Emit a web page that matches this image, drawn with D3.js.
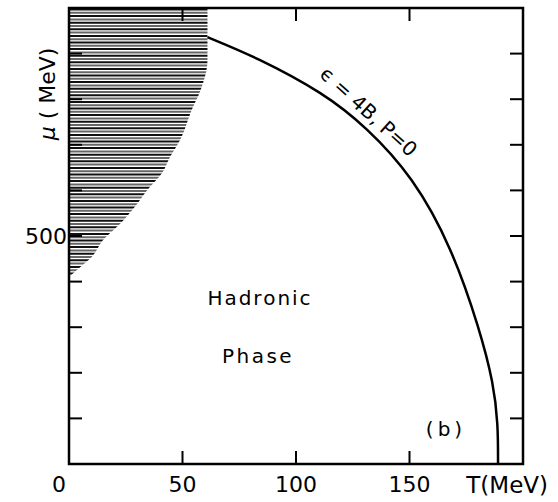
<!doctype html>
<html>
<head>
<style>
  body { margin: 0; background: #fff; }
  text { font-family: "DejaVu Sans", sans-serif; fill: #000; }
</style>
<script src="https://d3js.org/d3.v7.min.js"></script>
</head>
<body>
<svg width="558" height="502"></svg>
<script>
// axis ticks
var tTicks = [0, 50, 100, 150];
var muTicks = [100, 200, 300, 400, 500, 600, 700, 800, 900];
var muLabels = [500];

// phase boundary eps = 4B, P = 0  (T, mu) in MeV
var curveT  = [61, 83, 112, 131, 151.5, 168.7, 181, 187, 189, 189];
var curveMu = [936, 891, 814, 739, 630, 474, 294, 177, 89, 0];

// hatched region, right edge (T, mu)
var hatchT  = [61, 61, 61, 58, 54, 49, 44.5, 41, 34.5, 29, 23, 15, 10, 5, 0];
var hatchMu = [1000, 936, 886, 820, 776, 711, 673, 638, 601, 564, 529, 491, 454, 432, 410];

var svg = d3.select("svg");
var x = d3.scaleLinear().domain([0, 200]).range([69, 523]);
var y = d3.scaleLinear().domain([0, 1000]).range([464, 8]);

// hatching, clipped to the region
var hatch = hatchT.map(function(t, i) { return [t, hatchMu[i]]; });
svg.append("clipPath").attr("id", "hclip")
   .append("path")
   .attr("d", d3.area()
       .x0(x(0))
       .x1(function(d) { return x(d[0]); })
       .y(function(d) { return y(d[1]); })
       .curve(d3.curveMonotoneY)(hatch));

var rows = d3.range(y(1000) + 1.5, y(410), 3.3);
svg.append("g").attr("clip-path", "url(#hclip)")
   .selectAll("line").data(rows).enter().append("line")
   .attr("x1", x(0)).attr("x2", x(65))
   .attr("y1", function(d) { return d; })
   .attr("y2", function(d) { return d; })
   .attr("stroke", function(d, i) { return i % 2 ? "#666" : "#111"; })
   .attr("stroke-width", 2);

// frame
svg.append("rect")
   .attr("x", x(0)).attr("y", y(1000))
   .attr("width", x(200) - x(0)).attr("height", y(0) - y(1000))
   .attr("fill", "none").attr("stroke", "#000").attr("stroke-width", 2.5);

// ticks on all four sides
var tk = 13;
var g = svg.append("g").attr("stroke", "#000").attr("stroke-width", 2);
tTicks.slice(1).forEach(function(t) {
    g.append("line").attr("x1", x(t)).attr("x2", x(t)).attr("y1", y(0)).attr("y2", y(0) - tk);
    g.append("line").attr("x1", x(t)).attr("x2", x(t)).attr("y1", y(1000)).attr("y2", y(1000) + tk);
});
muTicks.forEach(function(m) {
    g.append("line").attr("x1", x(0)).attr("x2", x(0) + tk).attr("y1", y(m)).attr("y2", y(m));
    g.append("line").attr("x1", x(200)).attr("x2", x(200) - tk).attr("y1", y(m)).attr("y2", y(m));
});

// tick labels
svg.selectAll(".tl").data(tTicks).enter().append("text")
   .attr("class", "tl")
   .attr("x", function(d) { return x(d) + (d === 0 ? -10 : 0); })
   .attr("y", 492)
   .attr("text-anchor", "middle")
   .attr("font-size", 22)
   .text(function(d) { return d; });

svg.selectAll(".ml").data(muLabels).enter().append("text")
   .attr("class", "ml")
   .attr("x", x(0) - 2)
   .attr("y", function(d) { return y(d) + 8; })
   .attr("text-anchor", "end")
   .attr("font-size", 22)
   .text(function(d) { return d; });

// axis titles
svg.append("text").attr("x", 548).attr("y", 493)
   .attr("text-anchor", "end").attr("font-size", 23)
   .text("T(MeV)");

var yl = svg.append("text")
   .attr("transform", "translate(55,94) rotate(-90)")
   .attr("text-anchor", "middle").attr("font-size", 22);
yl.append("tspan").attr("font-style", "italic").text("μ");
yl.append("tspan").text(" ( MeV)");

// boundary curve
var pts = curveT.map(function(t, i) { return [t, curveMu[i]]; });
svg.append("path")
   .attr("d", d3.line()
       .x(function(d) { return x(d[0]); })
       .y(function(d) { return y(d[1]); })
       .curve(d3.curveBasis)(pts))
   .attr("fill", "none").attr("stroke", "#000").attr("stroke-width", 2.5);

svg.append("text")
   .attr("transform", "translate(" + x(132) + "," + y(773) + ") rotate(42)")
   .attr("text-anchor", "middle").attr("dy", "0.35em")
   .attr("font-size", 20)
   .text("ϵ = 4B, P=0");

// annotations
svg.append("text").attr("x", 260).attr("y", 305)
   .attr("text-anchor", "middle").attr("font-size", 20)
   .attr("letter-spacing", 2).text("Hadronic");
svg.append("text").attr("x", 258).attr("y", 363)
   .attr("text-anchor", "middle").attr("font-size", 20)
   .attr("letter-spacing", 2.5).text("Phase");
svg.append("text").attr("x", 446).attr("y", 436)
   .attr("text-anchor", "middle").attr("font-size", 20)
   .attr("letter-spacing", 4).text("(b)");
</script>
</body>
</html>
